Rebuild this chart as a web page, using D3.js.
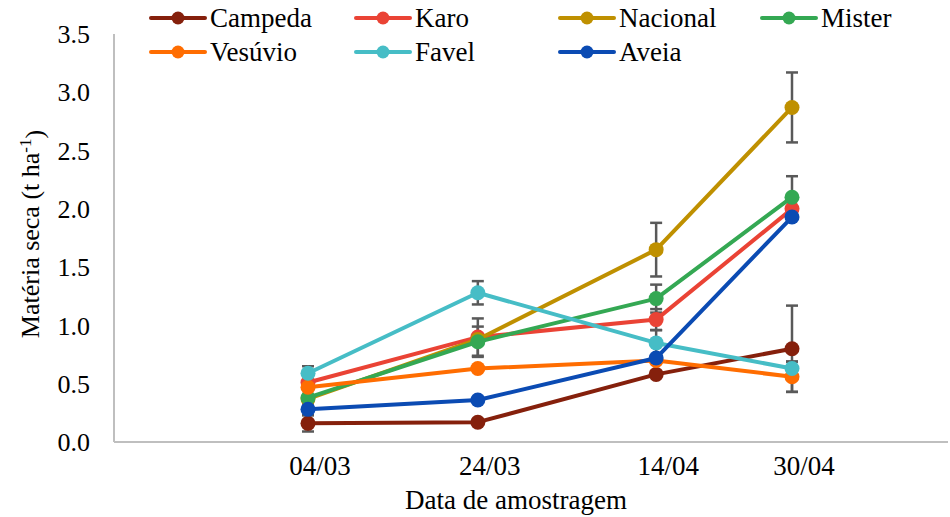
<!DOCTYPE html>
<html>
<head>
<meta charset="utf-8">
<script src="https://cdn.jsdelivr.net/npm/d3@7"></script>
<style>
  body { margin: 0; background: #fff; }
  text { font-family: "Liberation Serif", "Times New Roman", serif; fill: #000; }
</style>
</head>
<body>
<svg id="chart" width="950" height="517"></svg>
<script>
// Sampling dates and their labels
const sampleDates = ["2019-03-04", "2019-03-24", "2019-04-14", "2019-04-30"];
const dateLabels = ["04/03", "24/03", "14/04", "30/04"];

// Series (legend order = drawing order)
const seriesNames  = ["Campeda", "Karo", "Nacional", "Mister", "Vesúvio", "Favel", "Aveia"];
const seriesColors = ["#85200c", "#ea4335", "#bf9000", "#34a853", "#ff6d01", "#46bdc6", "#0b4bb3"];

// Dry matter (t/ha) per sampling date
const campeda  = [0.16, 0.17, 0.58, 0.80];
const karo     = [0.51, 0.90, 1.05, 2.00];
const nacional = [0.37, 0.88, 1.65, 2.87];
const mister   = [0.38, 0.86, 1.23, 2.10];
const vesuvio  = [0.47, 0.63, 0.70, 0.56];
const favel    = [0.59, 1.28, 0.85, 0.63];
const aveia    = [0.28, 0.36, 0.72, 1.93];

// Standard error per sampling date (0 = no bar)
const campedaErr  = [0.07, 0, 0, 0.37];
const karoErr     = [0, 0.16, 0.09, 0];
const nacionalErr = [0, 0, 0.23, 0.30];
const misterErr   = [0, 0.13, 0.12, 0.18];
const vesuvioErr  = [0, 0, 0, 0.13];
const favelErr    = [0.06, 0.10, 0.11, 0.06];
const aveiaErr    = [0.05, 0, 0, 0];

// Y axis tick values
const yTicks = [0, 0.5, 1.0, 1.5, 2.0, 2.5, 3.0, 3.5];

const seriesValues = [campeda, karo, nacional, mister, vesuvio, favel, aveia];
const seriesErrors = [campedaErr, karoErr, nacionalErr, misterErr, vesuvioErr, favelErr, aveiaErr];

const parse = d3.timeParse("%Y-%m-%d");
const dates = sampleDates.map(parse);

const svg = d3.select("#chart");
const plot = { left: 114, right: 948, top: 34, bottom: 442 };

// time axis: data dates sit inside the plot with extra room on both sides
const x = d3.scaleTime()
  .domain([dates[0], dates[dates.length - 1]])
  .range([plot.left + 194, plot.right - 156]);

const y = d3.scaleLinear().domain([0, 3.5]).range([plot.bottom, plot.top]);

const axisColor = "#bfbfbf";

// axis lines
svg.append("line")
  .attr("x1", plot.left).attr("x2", plot.left)
  .attr("y1", plot.top).attr("y2", plot.bottom)
  .attr("stroke", axisColor).attr("stroke-width", 2);
svg.append("line")
  .attr("x1", plot.left).attr("x2", plot.right)
  .attr("y1", plot.bottom).attr("y2", plot.bottom)
  .attr("stroke", axisColor).attr("stroke-width", 2);

// y tick labels
svg.append("g").selectAll("text")
  .data(yTicks)
  .join("text")
  .attr("x", plot.left - 24)
  .attr("y", d => y(d))
  .attr("dy", "0.35em")
  .attr("text-anchor", "end")
  .style("font-size", "26px")
  .text(d => d3.format(".1f")(d));

// x tick labels
svg.append("g").selectAll("text")
  .data(dates)
  .join("text")
  .attr("x", d => x(d) + 12)
  .attr("y", plot.bottom + 24)
  .attr("dy", "0.35em")
  .attr("text-anchor", "middle")
  .style("font-size", "27px")
  .text((d, i) => dateLabels[i]);

// axis titles
svg.append("text")
  .attr("x", 516)
  .attr("y", plot.bottom + 58)
  .attr("dy", "0.35em")
  .attr("text-anchor", "middle")
  .style("font-size", "27px")
  .text("Data de amostragem");

const yTitle = svg.append("text")
  .attr("transform", `translate(30,${(plot.top + plot.bottom) / 2 - 4}) rotate(-90)`)
  .attr("text-anchor", "middle")
  .attr("dy", "0.35em")
  .style("font-size", "26px");
yTitle.append("tspan").text("Matéria seca (t ha");
yTitle.append("tspan").attr("dy", "-0.45em").style("font-size", "17px").text("-1");
yTitle.append("tspan").attr("dy", "0.45em").text(")");

// error bars
const errG = svg.append("g");
seriesValues.forEach((vals, s) => {
  vals.forEach((v, i) => {
    const e = seriesErrors[s][i];
    if (!e) return;
    const cx = x(dates[i]);
    const g = errG.append("g").attr("stroke", "#595959").attr("stroke-width", 2.5);
    g.append("line").attr("x1", cx).attr("x2", cx).attr("y1", y(v - e)).attr("y2", y(v + e));
    g.append("line").attr("x1", cx - 6).attr("x2", cx + 6).attr("y1", y(v - e)).attr("y2", y(v - e));
    g.append("line").attr("x1", cx - 6).attr("x2", cx + 6).attr("y1", y(v + e)).attr("y2", y(v + e));
  });
});

// series lines and markers
const line = d3.line().x((d, i) => x(dates[i])).y(d => y(d));
seriesValues.forEach((vals, s) => {
  const g = svg.append("g");
  g.append("path")
    .attr("d", line(vals))
    .attr("fill", "none")
    .attr("stroke", seriesColors[s])
    .attr("stroke-width", 4)
    .attr("stroke-linejoin", "round");
  g.selectAll("circle")
    .data(vals)
    .join("circle")
    .attr("cx", (d, i) => x(dates[i]))
    .attr("cy", d => y(d))
    .attr("r", 7.5)
    .attr("fill", seriesColors[s]);
});

// legend: 4 entries on the first row, 3 on the second
const legendCols = [151, 356, 560, 762];
const legendRows = [18, 52];
const legend = svg.append("g");
seriesNames.forEach((name, s) => {
  const col = s < 4 ? s : s - 4;
  const row = s < 4 ? 0 : 1;
  const lx = legendCols[col], ly = legendRows[row];
  const g = legend.append("g").attr("transform", `translate(${lx},${ly})`);
  g.append("line").attr("x1", 0).attr("x2", 54).attr("y1", 0).attr("y2", 0)
    .attr("stroke", seriesColors[s]).attr("stroke-width", 4).attr("stroke-linecap", "round");
  g.append("circle").attr("cx", 27).attr("cy", 0).attr("r", 6.5).attr("fill", seriesColors[s]);
  g.append("text").attr("x", 59).attr("y", 0).attr("dy", "0.35em")
    .style("font-size", "27px").text(name);
});
</script>
</body>
</html>
